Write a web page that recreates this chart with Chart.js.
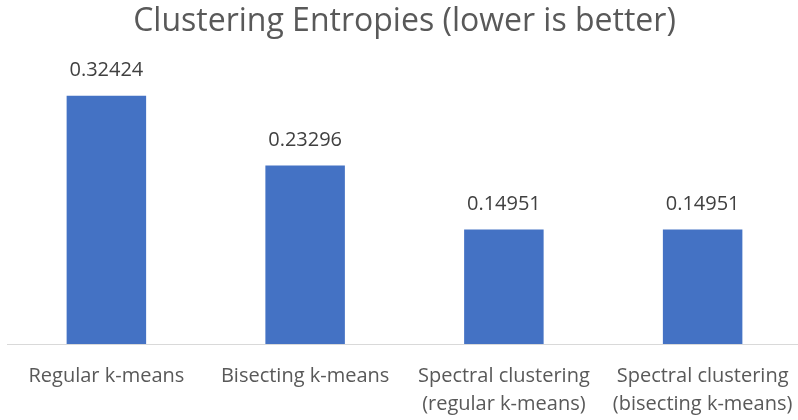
<!DOCTYPE html>
<html>
<head>
<meta charset="utf-8">
<script src="https://cdn.jsdelivr.net/npm/chart.js@4"></script>
<style>
  html, body { margin: 0; padding: 0; background: #ffffff; overflow: hidden; }
  #wrap { width: 798px; height: 420px; overflow: hidden; }
</style>
</head>
<body>
<div id="wrap"><canvas id="chart" width="803" height="420"></canvas></div>
<script>
const chartTitle = 'Clustering Entropies (lower is better)';
const categories = [
  ['Regular k-means'],
  ['Bisecting k-means'],
  ['Spectral clustering', '(regular k-means)'],
  ['Spectral clustering', '(bisecting k-means)']
];
const entropies = [0.32424, 0.23296, 0.14951, 0.14951];
const valueLabels = ['0.32424', '0.23296', '0.14951', '0.14951'];

const FONT = '"Open Sans", Lato, sans-serif';

// Writes each bar's value just above it
const barValueLabels = {
  id: 'barValueLabels',
  afterDatasetsDraw(chart) {
    const ctx = chart.ctx;
    const meta = chart.getDatasetMeta(0);
    ctx.save();
    ctx.font = '20px ' + FONT;
    ctx.fillStyle = '#404040';
    ctx.textAlign = 'center';
    ctx.textBaseline = 'middle';
    meta.data.forEach((bar, i) => {
      ctx.fillText(valueLabels[i], bar.x, bar.y - 25);
    });
    ctx.restore();
  }
};

new Chart(document.getElementById('chart'), {
  type: 'bar',
  data: {
    labels: categories,
    datasets: [{
      data: entropies,
      backgroundColor: '#4472C4',
      borderWidth: 0,
      categoryPercentage: 0.8,
      barPercentage: 0.5
    }]
  },
  options: {
    responsive: false,
    animation: false,
    layout: { padding: { left: 7, right: 1, top: 0, bottom: 0 } },
    plugins: {
      legend: { display: false },
      tooltip: { enabled: false },
      title: {
        display: true,
        text: chartTitle,
        color: '#595959',
        font: { family: FONT, size: 32, weight: 'normal', lineHeight: 1.2 },
        padding: { top: 3, bottom: 34.5 }
      }
    },
    scales: {
      x: {
        // tick marks hidden; their length only spaces the labels below the axis
        grid: { display: false, drawTicks: true, tickLength: 18 },
        border: { display: true, color: '#d9d9d9', width: 1 },
        ticks: {
          color: '#595959',
          font: { family: FONT, size: 20, lineHeight: 1.4 },
          padding: 0,
          maxRotation: 0,
          autoSkip: false
        },
        afterFit(scale) { scale.height = 76; }
      },
      y: {
        display: false,
        min: 0,
        max: 0.35
      }
    }
  },
  plugins: [barValueLabels]
});
</script>
</body>
</html>
